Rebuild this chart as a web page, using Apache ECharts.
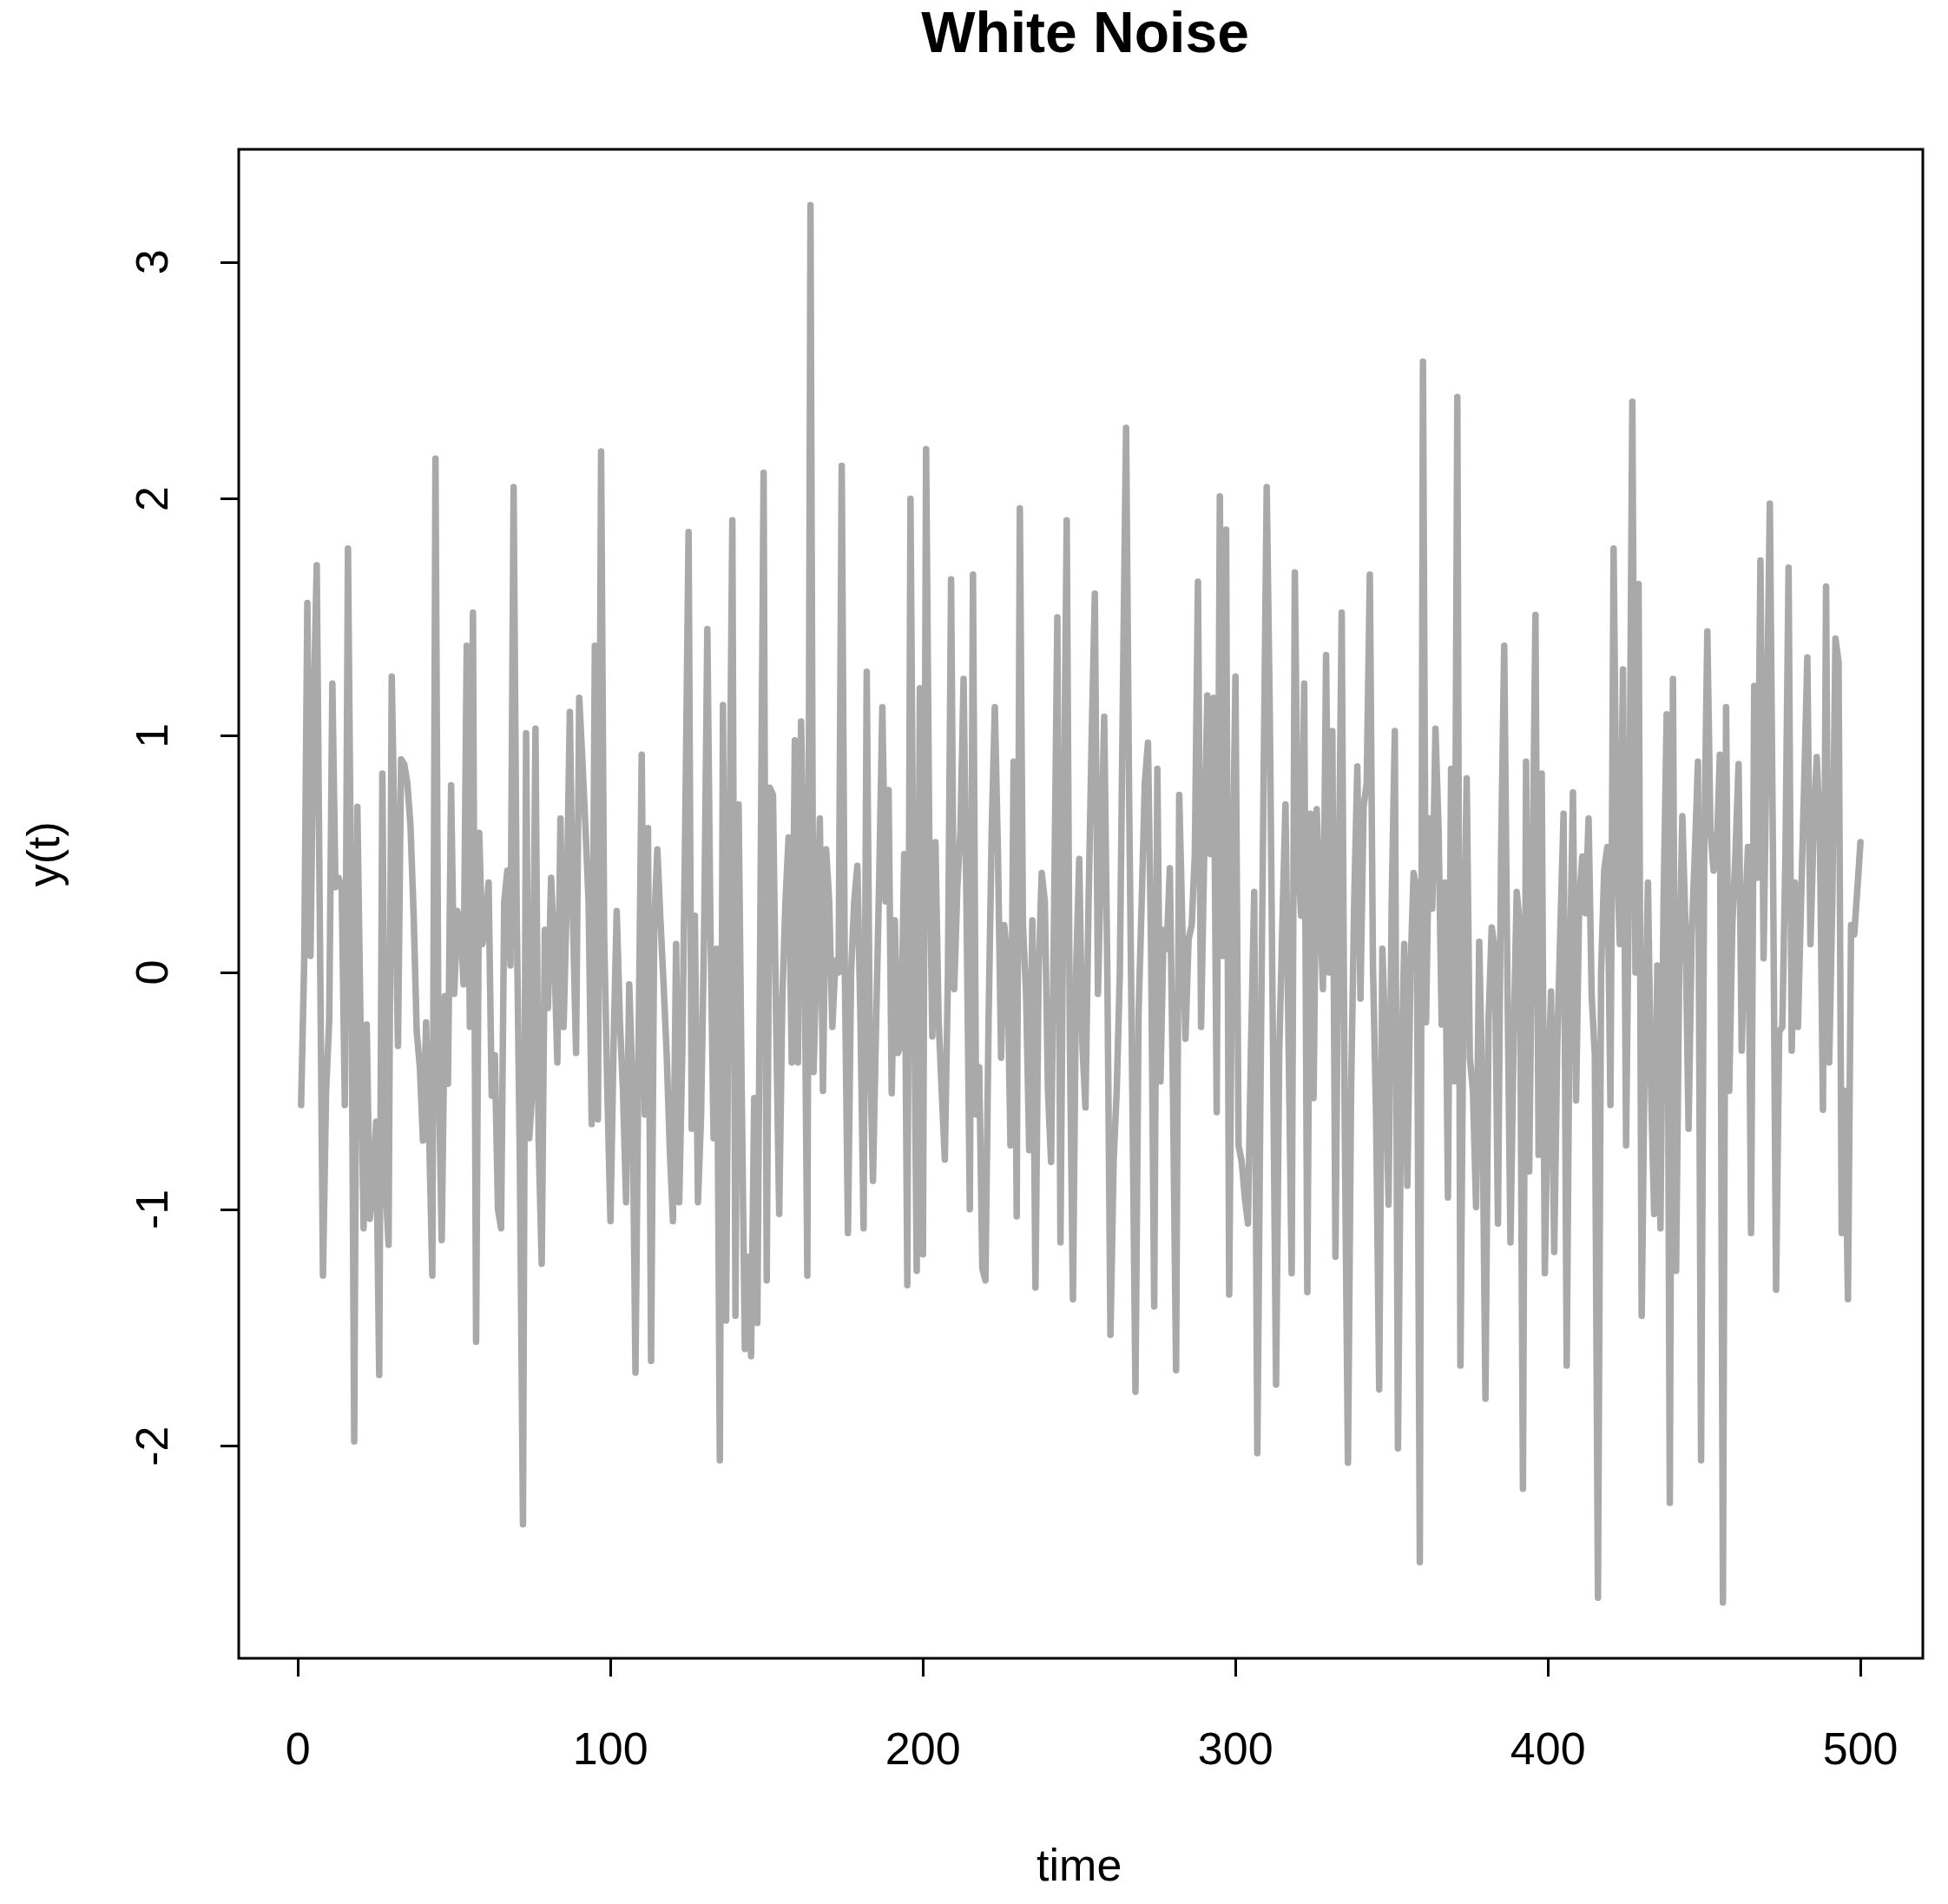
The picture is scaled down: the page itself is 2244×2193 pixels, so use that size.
<!DOCTYPE html>
<html>
<head>
<meta charset="utf-8">
<script src="https://cdn.jsdelivr.net/npm/echarts@6/dist/echarts.min.js"></script>
<style>
html,body{margin:0;padding:0;background:#fff;}
#chart{width:2244px;height:2193px;}
</style>
</head>
<body>
<div id="chart"></div>
<script>
// ---- data ----
const chartTitle = 'White Noise';
const xLabel = 'time';
const yLabel = 'y(t)';
const xTicks = [0, 100, 200, 300, 400, 500];
const yTicks = [-2, -1, 0, 1, 2, 3];
const values = [
 -0.56, 0.05, 1.56, 0.07, 1.10, 1.72, 0.20, -1.28, -0.50, -0.20,
 1.22, 0.36, 0.40, 0.35, -0.56, 1.79, 0.30, -1.98, 0.70, -0.20,
 -1.08, -0.22, -1.04, -0.90, -0.63, -1.70, 0.84, -0.89, -1.15, 1.25,
 0.50, -0.31, 0.90, 0.88, 0.80, 0.62, 0.25, -0.25, -0.40, -0.71,
 -0.21, -0.70, -1.28, 2.17, -0.40, -1.13, -0.10, -0.47, 0.79, -0.09,
 0.26, 0.20, -0.05, 1.38, -0.23, 1.52, -1.56, 0.59, 0.12, 0.20,
 0.38, -0.52, -0.35, -1.00, -1.08, 0.30, 0.43, 0.03, 2.05, 0.25,
 -0.80, -2.33, 1.01, -0.70, -0.50, 1.03, -0.70, -1.23, 0.18, -0.15,
 0.40, 0.10, -0.38, 0.65, -0.23, 0.30, 1.10, 0.22, -0.34, 1.16,
 0.90, 0.61, 0.30, -0.64, 1.38, -0.62, 2.20, 0.14, -0.50, -1.05,
 -0.30, 0.26, -0.20, -0.50, -0.97, -0.05, -0.45, -1.69, -0.30, 0.92,
 -0.60, 0.61, -1.64, 0.20, 0.52, 0.22, -0.05, -0.35, -0.75, -1.05,
 0.12, -0.97, -0.33, 0.70, 1.86, -0.66, 0.24, -0.97, -0.60, 0.20,
 1.45, 0.18, -0.70, 0.10, -2.06, 1.13, -1.47, 0.40, 1.91, -1.45,
 0.71, -0.50, -1.59, -1.20, -1.62, -0.53, -1.48, 0.30, 2.11, -1.30,
 0.78, 0.75, -0.20, -1.02, -0.11, 0.30, 0.57, -0.38, 0.98, -0.38,
 1.06, 0.30, -1.28, 3.24, -0.42, 0.10, 0.65, -0.50, 0.52, 0.30,
 -0.23, 0.05, 0.00, 2.14, 0.00, -1.10, 0.00, 0.30, 0.45, -0.20,
 -1.08, 1.27, -0.30, -0.88, -0.22, 0.40, 1.12, 0.30, 0.77, -0.51,
 0.22, -0.34, -0.30, 0.50, -1.32, 2.00, 0.20, -1.26, 1.20, -1.19,
 2.21, 0.60, -0.27, 0.55, -0.20, -0.50, -0.79, 0.00, 1.66, -0.07,
 0.36, 0.60, 1.24, 0.20, -1.00, 1.68, -0.60, -0.40, -1.25, -1.30,
 -0.20, 0.60, 1.12, 0.50, -0.36, 0.20, 0.06, -0.73, 0.89, -1.03,
 1.96, 0.20, -0.09, -0.75, 0.22, -1.33, 0.00, 0.42, 0.30, -0.50,
 -0.80, 0.30, 1.50, -1.14, 0.50, 1.91, -0.30, -1.38, 0.00, 0.48,
 -0.30, -0.57, 0.30, 1.00, 1.60, -0.09, 0.50, 1.08, 0.00, -1.53,
 -0.80, -0.50, 0.00, 1.20, 2.30, 0.70, -0.50, -1.77, -0.17, 0.30,
 0.80, 0.97, 0.10, -1.41, 0.86, -0.46, 0.18, 0.10, 0.44, -0.50,
 -1.68, 0.75, 0.20, -0.28, 0.14, 0.20, 0.50, 1.65, -0.23, 0.50,
 1.17, 0.50, 1.16, -0.59, 2.01, 0.07, 1.87, -1.36, 0.30, 1.25,
 -0.73, -0.80, -0.95, -1.06, -0.30, 0.34, -2.03, -0.50, 0.80, 2.05,
 1.08, -0.30, -1.74, -0.34, 0.20, 0.71, -0.30, -1.27, 1.69, 0.50,
 0.24, 1.22, -1.35, 0.67, -0.53, 0.69, 0.30, -0.07, 1.34, 0.00,
 1.02, -1.20, 0.30, 1.52, -0.70, -2.07, -0.50, 0.30, 0.87, -0.11,
 0.70, 0.80, 1.68, 0.03, -0.60, -1.76, 0.10, -0.30, -0.98, 0.30,
 1.02, -2.01, -0.50, 0.12, -0.90, 0.00, 0.42, 0.35, -2.49, 2.58,
 -0.21, 0.65, 0.27, 1.03, 0.60, -0.22, 0.38, -0.95, 0.86, -0.46,
 2.43, -1.66, 0.00, 0.82, -0.36, -0.50, -0.99, 0.13, -0.50, -1.80,
 -0.20, 0.19, 0.10, -1.06, 0.50, 1.38, 0.00, -1.14, -0.30, 0.34,
 0.20, -2.18, 0.89, -0.84, 0.30, 1.51, -0.77, 0.84, -1.27, -0.50,
 -0.08, -1.18, -0.30, 0.20, 0.67, -1.66, 0.00, 0.76, -0.54, 0.30,
 0.49, 0.25, 0.65, -0.10, -0.35, -2.64, 0.00, 0.43, 0.53, -0.56,
 1.79, 0.50, 0.12, 1.28, -0.73, 0.50, 2.41, 0.00, 1.64, -1.45,
 -0.30, 0.38, -0.50, -1.02, 0.03, -1.08, 0.30, 1.09, -2.24, 1.24,
 -1.26, 0.00, 0.66, 0.20, -0.66, 0.16, 0.50, 0.89, -2.06, 0.50,
 1.44, 0.60, 0.43, 0.50, 0.92, -2.66, 1.12, -0.50, 0.20, 0.50,
 0.88, -0.33, 0.20, 0.53, -1.10, 1.21, 0.40, 1.74, 0.06, 1.00,
 1.98, 0.50, -1.34, -0.25, -0.23, 0.50, 1.71, -0.33, 0.38, -0.23,
 0.30, 0.80, 1.33, 0.12, 0.60, 0.91, 0.60, -0.58, 1.63, -0.38,
 0.30, 1.41, 1.31, -1.10, -0.50, -1.38, 0.20, 0.16, 0.35, 0.55
];

// ---- layout ----
const FONT = "'Liberation Sans', Arial, Helvetica, sans-serif";
const plot = {left: 275, top: 172, width: 1940, height: 1738};
const n = values.length;
const vmin = Math.min(...values), vmax = Math.max(...values);
// R-style 4% axis extension
const xMin = 1 - 0.04 * (n - 1), xMax = n + 0.04 * (n - 1);
const yMin = vmin - 0.04 * (vmax - vmin), yMax = vmax + 0.04 * (vmax - vmin);
const pxX = plot.width / (xMax - xMin);
const pxY = plot.height / (yMax - yMin);

const xt0 = xTicks[0], xt1 = xTicks[xTicks.length - 1];
const yt0 = yTicks[0], yt1 = yTicks[yTicks.length - 1];

const gridX = {left: plot.left + (xt0 - xMin) * pxX, width: (xt1 - xt0) * pxX, top: plot.top, height: plot.height};
const gridY = {left: plot.left, width: plot.width, top: plot.top + (yMax - yt1) * pxY, height: (yt1 - yt0) * pxY};

const seriesData = values.map((v, i) => [i + 1, v]);

const chart = echarts.init(document.getElementById('chart'), null, {renderer: 'canvas'});
const option = {
  animation: false,
  backgroundColor: '#ffffff',
  title: {
    text: chartTitle,
    left: plot.left + plot.width / 2,
    top: 4,
    textAlign: 'center',
    textStyle: {fontFamily: FONT, fontSize: 66, fontWeight: 'bold', color: '#000'}
  },
  grid: [
    {left: plot.left, top: plot.top, width: plot.width, height: plot.height, show: true,
     borderColor: '#000', borderWidth: 3, backgroundColor: 'transparent'},
    Object.assign({show: false}, gridX),
    Object.assign({show: false}, gridY)
  ],
  xAxis: [
    {type: 'value', gridIndex: 0, min: xMin, max: xMax, show: false},
    {type: 'value', gridIndex: 1, min: xt0, max: xt1, interval: 100,
     axisLine: {show: false},
     axisTick: {show: true, inside: false, length: 21, lineStyle: {color: '#000', width: 3}},
     axisLabel: {show: true, margin: 82, fontFamily: FONT, fontSize: 52, color: '#000'},
     splitLine: {show: false},
     name: xLabel, nameLocation: 'middle', nameGap: 216,
     nameTextStyle: {fontFamily: FONT, fontSize: 52, color: '#000'}},
    {type: 'value', gridIndex: 2, show: false}
  ],
  yAxis: [
    {type: 'value', gridIndex: 0, min: yMin, max: yMax, show: false},
    {type: 'value', gridIndex: 1, show: false},
    {type: 'value', gridIndex: 2, min: yt0, max: yt1, interval: 1,
     axisLine: {show: false},
     axisTick: {show: true, inside: false, length: 21, lineStyle: {color: '#000', width: 3}},
     axisLabel: {show: true, rotate: 90, margin: 70, fontFamily: FONT, fontSize: 52, color: '#000'},
     splitLine: {show: false},
     name: yLabel, nameLocation: 'middle', nameGap: 195,
     nameTextStyle: {fontFamily: FONT, fontSize: 52, color: '#000'}}
  ],
  series: [{
    type: 'line',
    xAxisIndex: 0, yAxisIndex: 0,
    data: seriesData,
    showSymbol: false,
    symbol: 'none',
    smooth: false,
    clip: true,
    lineStyle: {color: '#A9A9A9', width: 7.5, cap: 'round', join: 'round'}
  }]
};
chart.setOption(option);
</script>
</body>
</html>
